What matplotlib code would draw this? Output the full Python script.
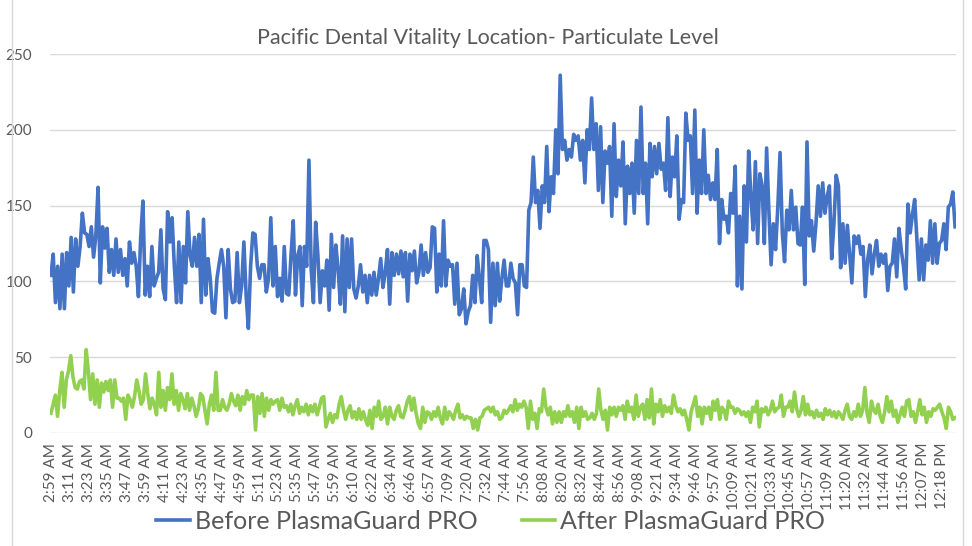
import matplotlib.pyplot as plt
from matplotlib.lines import Line2D
import numpy as np

# tick labels shown under the chart (every 12th reading)
time_labels = ['2:59 AM', '3:11 AM', '3:23 AM', '3:35 AM', '3:47 AM', '3:59 AM',
               '4:11 AM', '4:23 AM', '4:35 AM', '4:47 AM', '4:59 AM', '5:11 AM',
               '5:23 AM', '5:35 AM', '5:47 AM', '5:59 AM', '6:10 AM', '6:22 AM',
               '6:34 AM', '6:46 AM', '6:57 AM', '7:09 AM', '7:20 AM', '7:32 AM',
               '7:44 AM', '7:56 AM', '8:08 AM', '8:20 AM', '8:32 AM', '8:44 AM',
               '8:56 AM', '9:08 AM', '9:21 AM', '9:34 AM', '9:46 AM', '9:57 AM',
               '10:09 AM', '10:21 AM', '10:33 AM', '10:45 AM', '10:57 AM', '11:09 AM',
               '11:20 AM', '11:32 AM', '11:44 AM', '11:56 AM', '12:07 PM', '12:18 PM']
# readings run a little past the last label
span = 47.68

before = [104, 118, 86, 110, 82, 118, 82, 119, 97, 129,
          93, 128, 110, 123, 145, 132, 131, 123, 136, 116,
          130, 162, 99, 136, 122, 135, 106, 121, 104, 128,
          106, 121, 104, 115, 97, 126, 112, 119, 110, 90,
          129, 153, 91, 110, 90, 123, 97, 102, 106, 134,
          95, 88, 146, 126, 142, 110, 86, 126, 86, 123,
          99, 146, 117, 110, 129, 110, 131, 86, 141, 91,
          115, 102, 80, 79, 102, 112, 121, 110, 76, 121,
          95, 86, 87, 119, 86, 97, 126, 91, 69, 110,
          132, 131, 110, 102, 111, 111, 93, 102, 142, 97,
          123, 90, 102, 87, 123,
          92, 91, 117, 140, 91, 117, 123, 84, 123, 110,
          180, 108, 86, 139, 117, 86, 107, 97, 114, 81,
          131, 96, 124, 108, 85, 130, 80, 128, 96, 128,
          95, 89, 97, 111, 93, 104, 86, 104, 91, 106,
          91, 102, 115, 96, 106, 121, 85, 119, 104, 118,
          105, 120, 103, 119, 87, 118, 107, 120, 99, 106,
          124, 104, 119, 106, 109, 136, 135, 93, 118, 97,
          140, 97, 114, 110, 111, 85, 112, 78, 82, 95,
          72, 80, 84, 104, 86, 117, 102, 86, 127, 127,
          121, 73, 112, 84, 112, 87, 102, 114, 97, 97,
          112, 102, 99, 78, 111, 111, 97, 96,
          147, 152, 182, 152, 160, 135, 163, 152, 189, 146,
          169, 158, 200, 171, 236, 187, 193, 180, 187, 182,
          197, 193, 196, 180, 193, 165, 200, 187, 221, 187,
          204, 160, 202, 152, 186, 178, 189, 143, 204, 156,
          180, 163, 192, 138, 176, 158, 178, 145, 193, 158,
          215, 158, 178, 138, 191, 169, 189, 171, 191, 174,
          178, 160, 208, 156, 182, 169, 196, 141, 154, 152,
          211, 193, 196, 158, 213, 145, 180, 158, 200, 158,
          170, 154, 165, 154, 187, 125, 154, 141, 143, 132,
          158, 145, 176, 97, 143, 95, 163, 126, 186,
          156, 134, 179, 125, 171, 163, 125, 188, 147, 111,
          138, 121, 149, 185, 132, 113, 147, 134, 160, 134,
          149, 125, 124, 149, 98, 192, 130, 140, 120, 138,
          163, 143, 165, 145, 156, 163, 115, 138, 170, 163,
          109, 138, 112, 137, 118, 99, 130, 125, 130, 118,
          123, 90, 114, 124, 105, 118, 127, 110, 118, 112,
          118, 94, 110, 112, 128, 103, 135, 121, 110, 95,
          151, 132, 144, 154, 127, 101, 128, 101, 124, 114,
          140, 112, 138, 112, 125, 127, 138, 121, 149, 151,
          159, 136]

after = [13, 19, 25, 11, 28, 40, 17, 35, 41, 51, 37, 30, 29, 34, 35, 29, 55, 41, 22, 39,
         19, 35, 17, 33, 27, 34, 28, 35, 17, 35, 23, 23, 21, 23, 9, 25, 22, 17, 24, 35,
         28, 19, 22, 39, 26, 16, 23, 19, 12, 40, 17, 28, 15, 30, 22, 39, 19, 28, 15, 26,
         22, 16, 26, 15, 23, 18, 11, 16, 26, 24, 15, 6, 19, 25, 15, 40, 15, 15, 22, 17,
         15, 19, 26, 21, 18, 25, 15, 24, 19, 28, 22, 25, 25, 2, 24, 13, 26, 11, 23, 15,
         22, 19, 21, 22, 15, 23, 17, 18, 14, 19, 12, 18, 22, 13, 17, 14, 19, 12, 18, 14,
         19, 12, 17, 23, 24, 4, 9, 13, 7, 12, 10, 19, 24, 15, 9, 15, 18, 10, 14, 9,
         16, 9, 14, 9, 5, 15, 3, 17, 11, 21, 9, 11, 17, 6, 17, 11, 9, 15, 18, 11,
         10, 15, 21, 24, 15, 23, 13, 6, 3, 17, 7, 14, 13, 9, 14, 11, 17, 10, 6, 17,
         9, 14, 12, 9, 15, 19, 10, 12, 9, 11, 10, 10, 3, 9, 2, 10, 11, 15, 16, 17,
         14, 17, 12, 14, 9, 10,
         15, 13, 15, 18, 14, 22, 15, 19, 17, 21, 17, 3, 21, 9, 13, 3, 16, 14, 29, 17,
         12, 17, 6, 14, 7, 14, 7, 14, 11, 18, 11, 14, 7, 17, 3, 17, 11, 14, 9, 10,
         13, 9, 13, 29, 15, 9, 15, 2, 17, 12, 17, 11, 17, 15, 18, 9, 21, 14, 17, 9,
         25, 11, 17, 19, 9, 22, 10, 29, 6, 19, 14, 22, 11, 18, 14, 17, 13, 25, 18, 14,
         16, 12, 15, 9, 2, 14, 19, 24, 11, 17, 6, 17, 13, 17, 9, 21, 15, 22, 9, 17,
         15, 9, 21, 17, 17, 13, 16, 15, 12, 14, 11, 14, 7, 17, 14, 21, 4, 16, 14, 17,
         12, 15, 21, 14, 16, 17, 25, 11, 17, 17, 21, 14, 27, 16, 11, 15, 24, 12, 19, 12,
         14, 10, 15, 11, 13, 9, 16, 12, 15, 11, 14, 10, 14, 12, 9, 15, 19, 11, 9, 14,
         11, 19, 11, 15, 30, 13, 7, 21, 15, 13, 19, 11, 7, 14, 24, 14, 21, 11, 15, 7,
         12, 17, 11, 21, 22, 11, 14, 7, 14, 22, 12, 17, 7, 14, 11, 16, 15, 17, 19, 14,
         10, 3, 17, 14, 9, 10]

plt.rcParams['font.family'] = ['Lato', 'DejaVu Sans']
grey = '#595959'

fig = plt.figure(figsize=(9.72, 5.46), dpi=100)
ax = fig.add_axes([50 / 972, 113 / 546, 906 / 972, 379 / 546])

ax.plot(np.linspace(0, span, len(before)), before, color='#4472C4', linewidth=2.6,
        label='Before PlasmaGuard PRO', solid_joinstyle='round')
ax.plot(np.linspace(0, span, len(after)), after, color='#92D050', linewidth=2.6,
        label='After PlasmaGuard PRO', solid_joinstyle='round')

ax.set_xlim(-0.05, span + 0.05)
ax.set_ylim(0, 250)
ax.set_yticks(range(0, 251, 50))
ax.set_xticks(range(len(time_labels)))
ax.set_xticklabels(time_labels, rotation=90)
ax.tick_params(axis='both', length=0, colors=grey, labelsize=11)
ax.tick_params(axis='y', pad=13)
ax.tick_params(axis='x', pad=7)
ax.grid(axis='y', color='#d9d9d9', linewidth=1)
ax.set_axisbelow(True)
for s in ax.spines.values():
    s.set_visible(False)

# chart-area border edges on the left and right
for xb in (12 / 972, 963 / 972):
    fig.add_artist(Line2D([xb, xb], [0, 1], color='#d9d9d9', linewidth=1))

fig.text(0.502, 0.93, 'Pacific Dental Vitality Location- Particulate Level',
         ha='center', va='center', fontsize=15.5, color=grey)

fig.legend(loc='center', bbox_to_anchor=(0.505, 0.045), ncol=2, frameon=False,
           fontsize=18, labelcolor=grey, handlelength=1.35, handletextpad=0.2,
           columnspacing=1.75)

fig.savefig('out.png')
